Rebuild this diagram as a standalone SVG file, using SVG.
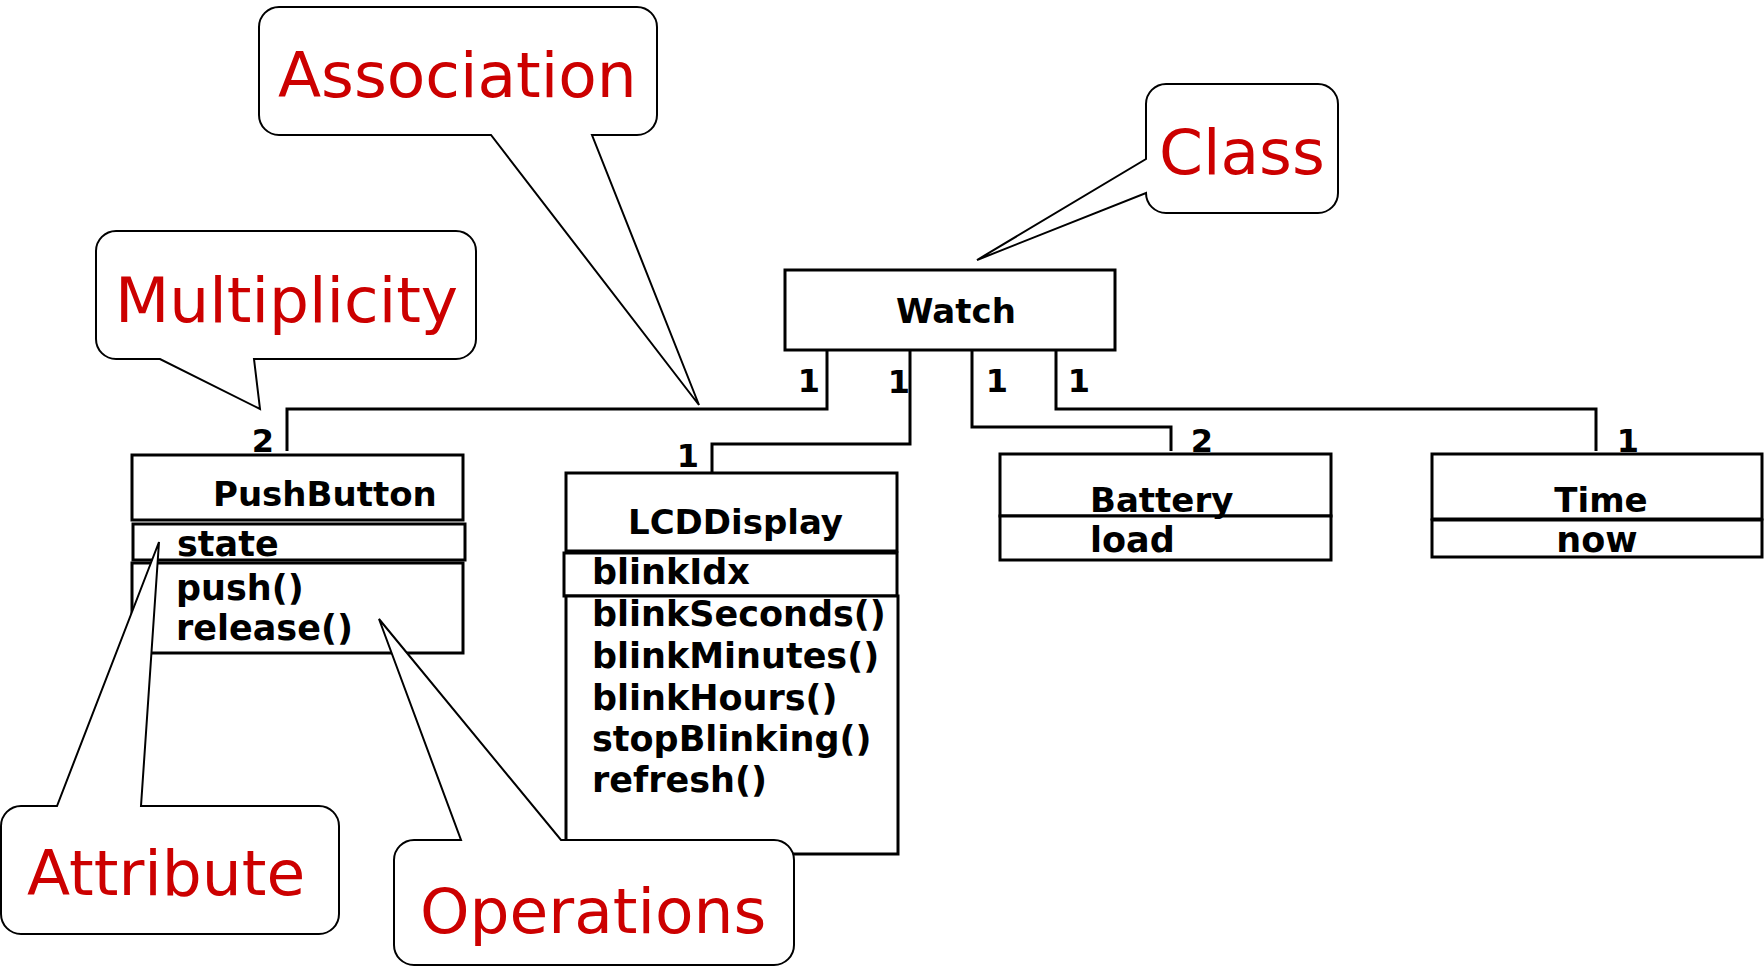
<svg xmlns="http://www.w3.org/2000/svg" width="1764" height="966" viewBox="0 0 1764 966">
<style>
.box{fill:#fff;stroke:#000;stroke-width:3}
.conn{fill:none;stroke:#000;stroke-width:3}
.cls{font-family:"DejaVu Sans","Verdana",sans-serif;font-weight:bold;font-size:34px;fill:#000}
.body{font-family:"DejaVu Sans","Verdana",sans-serif;font-weight:bold;font-size:35px;fill:#000}
.mult{font-family:"DejaVu Sans","Verdana",sans-serif;font-weight:bold;font-size:32px;fill:#000;text-anchor:middle}
.callout{fill:#fff;stroke:#000;stroke-width:2;stroke-linejoin:miter}
.ctext{font-family:"DejaVu Sans","Verdana",sans-serif;font-size:63px;fill:#CC0000}
</style>
<rect width="1764" height="966" fill="#fff"/>
<g id="connectors">
<path class="conn" d="M827,350 V409 H287 V451"/>
<path class="conn" d="M910,350 V444 H712 V473"/>
<path class="conn" d="M972,350 V427 H1171 V451"/>
<path class="conn" d="M1056,350 V409 H1596 V451"/>
</g>
<g id="Watch">
<rect class="box" x="785" y="270" width="330" height="80"/>
<text class="cls" x="956" y="323" text-anchor="middle">Watch</text>
</g>
<g id="PushButton">
<rect class="box" x="132" y="455" width="331" height="65"/>
<rect class="box" x="133" y="524" width="332" height="36"/>
<rect class="box" x="132" y="563" width="331" height="90"/>
<text class="cls" x="213" y="506">PushButton</text>
<text class="body" x="177" y="556">state</text>
<text class="body" x="176" y="600">push()</text>
<text class="body" x="176" y="640">release()</text>
</g>
<g id="LCDDisplay">
<rect class="box" x="566" y="473" width="331" height="78"/>
<rect class="box" x="564" y="553" width="333" height="43"/>
<rect class="box" x="566" y="596" width="332" height="258"/>
<text class="cls" x="628" y="534">LCDDisplay</text>
<text class="body" x="592" y="584">blinkIdx</text>
<text class="body" x="592" y="626">blinkSeconds()</text>
<text class="body" x="592" y="668">blinkMinutes()</text>
<text class="body" x="592" y="710">blinkHours()</text>
<text class="body" x="592" y="751">stopBlinking()</text>
<text class="body" x="592" y="792">refresh()</text>
</g>
<g id="Battery">
<rect class="box" x="1000" y="454" width="331" height="62"/>
<rect class="box" x="1000" y="516" width="331" height="44"/>
<text class="cls" x="1090" y="512">Battery</text>
<text class="body" x="1090" y="552">load</text>
</g>
<g id="Time">
<rect class="box" x="1432" y="454" width="330" height="65"/>
<rect class="box" x="1432" y="520" width="330" height="37"/>
<text class="cls" x="1601" y="512" text-anchor="middle">Time</text>
<text class="body" x="1597" y="552" text-anchor="middle">now</text>
</g>
<g id="multiplicities">
<text class="mult" x="263" y="452">2</text>
<text class="mult" x="809" y="392">1</text>
<text class="mult" x="899" y="393">1</text>
<text class="mult" x="997" y="392">1</text>
<text class="mult" x="1079" y="392">1</text>
<text class="mult" x="688" y="467">1</text>
<text class="mult" x="1202" y="452">2</text>
<text class="mult" x="1628" y="452">1</text>
</g>
<g id="callout-association">
<path class="callout" d="M279,7 H637 A20,20 0 0 1 657,27 V115 A20,20 0 0 1 637,135 H592 L699,405 L491,135 H279 A20,20 0 0 1 259,115 V27 A20,20 0 0 1 279,7 Z"/>
<text class="ctext" x="278" y="97">Association</text>
</g>
<g id="callout-multiplicity">
<path class="callout" d="M116,231 H456 A20,20 0 0 1 476,251 V339 A20,20 0 0 1 456,359 H254 L260,409 L160,359 H116 A20,20 0 0 1 96,339 V251 A20,20 0 0 1 116,231 Z"/>
<text class="ctext" x="115" y="322">Multiplicity</text>
</g>
<g id="callout-class">
<path class="callout" d="M1166,84 H1318 A20,20 0 0 1 1338,104 V193 A20,20 0 0 1 1318,213 H1166 A20,20 0 0 1 1146,193 L977,260 L1146,159 V104 A20,20 0 0 1 1166,84 Z"/>
<text class="ctext" x="1159" y="174">Class</text>
</g>
<g id="callout-attribute">
<path class="callout" d="M21,806 H57 L159,542 L141,806 H319 A20,20 0 0 1 339,826 V914 A20,20 0 0 1 319,934 H21 A20,20 0 0 1 1,914 V826 A20,20 0 0 1 21,806 Z"/>
<text class="ctext" x="27" y="895">Attribute</text>
</g>
<g id="callout-operations">
<path class="callout" d="M414,840 H461 L379,619 L561,840 H774 A20,20 0 0 1 794,860 V945 A20,20 0 0 1 774,965 H414 A20,20 0 0 1 394,945 V860 A20,20 0 0 1 414,840 Z"/>
<text class="ctext" x="420" y="933">Operations</text>
</g>
</svg>
